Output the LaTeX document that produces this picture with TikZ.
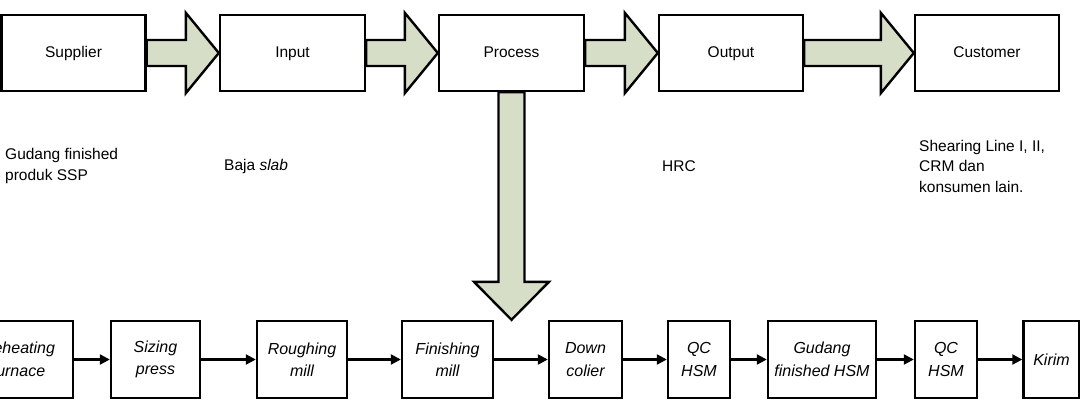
\documentclass[tikz,border=0pt]{standalone}
\usepackage{fontspec}
\setmainfont{Liberation Sans}
\usepackage{tikz}
\usetikzlibrary{positioning,arrows.meta,calc}
\definecolor{arrowfill}{RGB}{215,222,200}

\begin{document}
\begin{tikzpicture}[x=1pt,y=-1pt,
  box/.style={draw,line width=2.4pt,minimum height=76pt,inner sep=0pt,text height=11pt,text depth=3pt,
    font=\fontsize{15.5}{19}\selectfont},
  step box/.style={draw,line width=2.4pt,minimum height=77pt,inner sep=0pt,align=center,
    font=\fontsize{16}{22.5}\selectfont\itshape},
  note/.style={anchor=west,align=left,inner sep=0pt,font=\fontsize{15.5}{20.5}\selectfont},
  bigarrow/.style={draw,fill=arrowfill,line width=2.4pt,line join=miter},
  flow/.style={line width=2.2pt,-{Triangle[length=10pt,width=10pt]}}]
  \clip (0,0) rectangle (1080,410);
  % SIPOC row
  \node[box,minimum width=144pt] (sup) at (73.5,53) {Supplier};
  \node[box,minimum width=145pt] (inp) at (292.5,53) {Input};
  \node[box,minimum width=145pt] (pro) at (511.5,53) {Process};
  \node[box,minimum width=144pt] (out) at (731,53) {Output};
  \node[box,minimum width=144pt] (cus) at (987,53) {Customer};
  % block arrows between the boxes
  \foreach \a/\b in {sup/inp,inp/pro,pro/out,out/cus}
    \draw[bigarrow] ([yshift=13pt]\a.east) -- ([xshift=-33pt,yshift=13pt]\b.west)
      -- ([xshift=-33pt,yshift=1pt]\b.north west) -- (\b.west)
      -- ([xshift=-33pt,yshift=-1pt]\b.south west) -- ([xshift=-33pt,yshift=-13pt]\b.west)
      -- ([yshift=-13pt]\a.east) -- cycle;
  % descriptions
  \node[note] (tsup) at (5,166) {Gudang finished\\produk SSP};
  \node[note] (tinp) at (224,166) {Baja \textit{slab}};
  \node[note] (tout) at (662,166) {HRC};
  \node[note] (tcus) at (919,166) {Shearing Line I, II,\\CRM dan\\konsumen lain.};
  % process steps
  \node[step box,minimum width=109pt] (reh) at (18.5,359.5) {Reheating\\furnace};
  \node[step box,minimum width=89pt] (siz) at (155.5,359.5) {Sizing\\press};
  \node[step box,minimum width=90pt] (rou) at (302,359.5) {Roughing\\mill};
  \node[step box,minimum width=91pt] (fin) at (447.5,359.5) {Finishing\\mill};
  \node[step box,minimum width=73pt] (dow) at (585.5,359.5) {Down\\colier};
  \node[step box,minimum width=62pt] (qc1) at (699,359.5) {QC\\HSM};
  \node[step box,minimum width=108pt] (gud) at (822,359.5) {Gudang\\finished HSM};
  \node[step box,minimum width=62pt] (qc2) at (946,359.5) {QC\\HSM};
  \node[step box,minimum width=56pt] (kir) at (1051.5,359.5) {Kirim};
  \foreach \a/\b in {reh/siz,siz/rou,rou/fin,fin/dow,dow/qc1,qc1/gud,gud/qc2,qc2/kir}
    \draw[flow] (\a) -- (\b);
  % Process -> steps
  \coordinate (tip) at (pro.south |- fin.north);
  \draw[bigarrow] ([xshift=-13pt]pro.south) -- ([xshift=-13pt,yshift=38pt]tip)
    -- ([xshift=-37.5pt,yshift=38pt]tip) -- (tip) -- ([xshift=37.5pt,yshift=38pt]tip)
    -- ([xshift=13pt,yshift=38pt]tip) -- ([xshift=13pt]pro.south) -- cycle;
\end{tikzpicture}
\end{document}
